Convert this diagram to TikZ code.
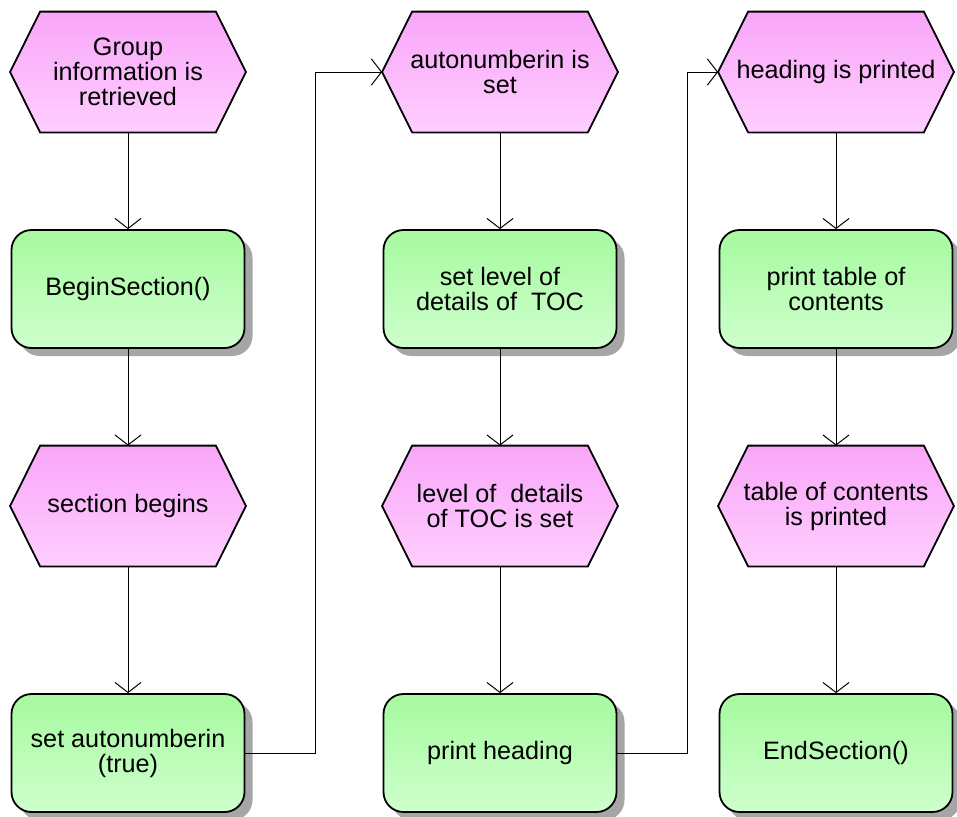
\documentclass[tikz,border=0pt]{standalone}
\usepackage{fontspec}
\setmainfont{Liberation Sans}
\usetikzlibrary{shadows,arrows.meta,backgrounds}

\definecolor{evtop}{RGB}{248,166,248}
\definecolor{evbot}{RGB}{255,206,255}
\definecolor{fntop}{RGB}{166,250,160}
\definecolor{fnbot}{RGB}{206,255,204}

\begin{document}
\begin{tikzpicture}[x=0.5pt, y=-0.5pt,
		every node/.style={font=\fontsize{12.6}{12.5}\selectfont, align=center},
		event/.style={rectangle, minimum width=117.5pt, minimum height=60pt, inner sep=0pt},
		func/.style={rectangle, rounded corners=10pt, minimum width=116.5pt, minimum height=59pt,
				draw, line width=0.9pt, top color=fntop, bottom color=fnbot,
				drop shadow={shadow xshift=4pt, shadow yshift=-4pt, fill=black!35, opacity=1}},
		flow/.style={line width=0.5pt, -{Straight Barb[length=5pt, width=13pt, line width=0.5pt]}}]
		\useasboundingbox (0, 0) rectangle (957, 816);

		\node[event] (e1) at (128, 72) {Group\\information is\\retrieved};
		\node[func] (f1) at (128, 289) {BeginSection()};
		\node[event] (e2) at (128, 506) {section begins};
		\node[func] (f2) at (128, 753) {set autonumberin\\(true)};

		\node[event] (e3) at (500, 72) {autonumberin is\\set};
		\node[func] (f3) at (500, 289) {set level of\\details of\ \ TOC};
		\node[event] (e4) at (500, 506) {level of\ \ details\\of TOC is set};
		\node[func] (f4) at (500, 753) {print heading};

		\node[event] (e5) at (836, 72) {heading is printed};
		\node[func] (f5) at (836, 289) {print table of\\contents};
		\node[event] (e6) at (836, 506) {table of contents\\is printed};
		\node[func] (f6) at (836, 753) {EndSection()};

		\begin{scope}[on background layer]
			\foreach \n in {e1, e2, e3, e4, e5, e6} {
				\fill[black!35, shift={(4pt, -4pt)}] (\n.west) -- ([xshift=15pt]\n.north west)
					-- ([xshift=-15pt]\n.north east) -- (\n.east)
					-- ([xshift=-15pt]\n.south east) -- ([xshift=15pt]\n.south west) -- cycle;
				\draw[line width=0.9pt, line join=miter, top color=evtop, bottom color=evbot]
					(\n.west) -- ([xshift=15pt]\n.north west)
					-- ([xshift=-15pt]\n.north east) -- (\n.east)
					-- ([xshift=-15pt]\n.south east) -- ([xshift=15pt]\n.south west) -- cycle;
			}
		\end{scope}

		\draw[flow] (e1) -- (f1);
		\draw[flow] (f1) -- (e2);
		\draw[flow] (e2) -- (f2);
		\draw[flow] (f2.east) -- ++(70, 0) |- (e3.west);
		\draw[flow] (e3) -- (f3);
		\draw[flow] (f3) -- (e4);
		\draw[flow] (e4) -- (f4);
		\draw[flow] (f4.east) -- ++(70, 0) |- (e5.west);
		\draw[flow] (e5) -- (f5);
		\draw[flow] (f5) -- (e6);
		\draw[flow] (e6) -- (f6);
	\end{tikzpicture}
\end{document}
